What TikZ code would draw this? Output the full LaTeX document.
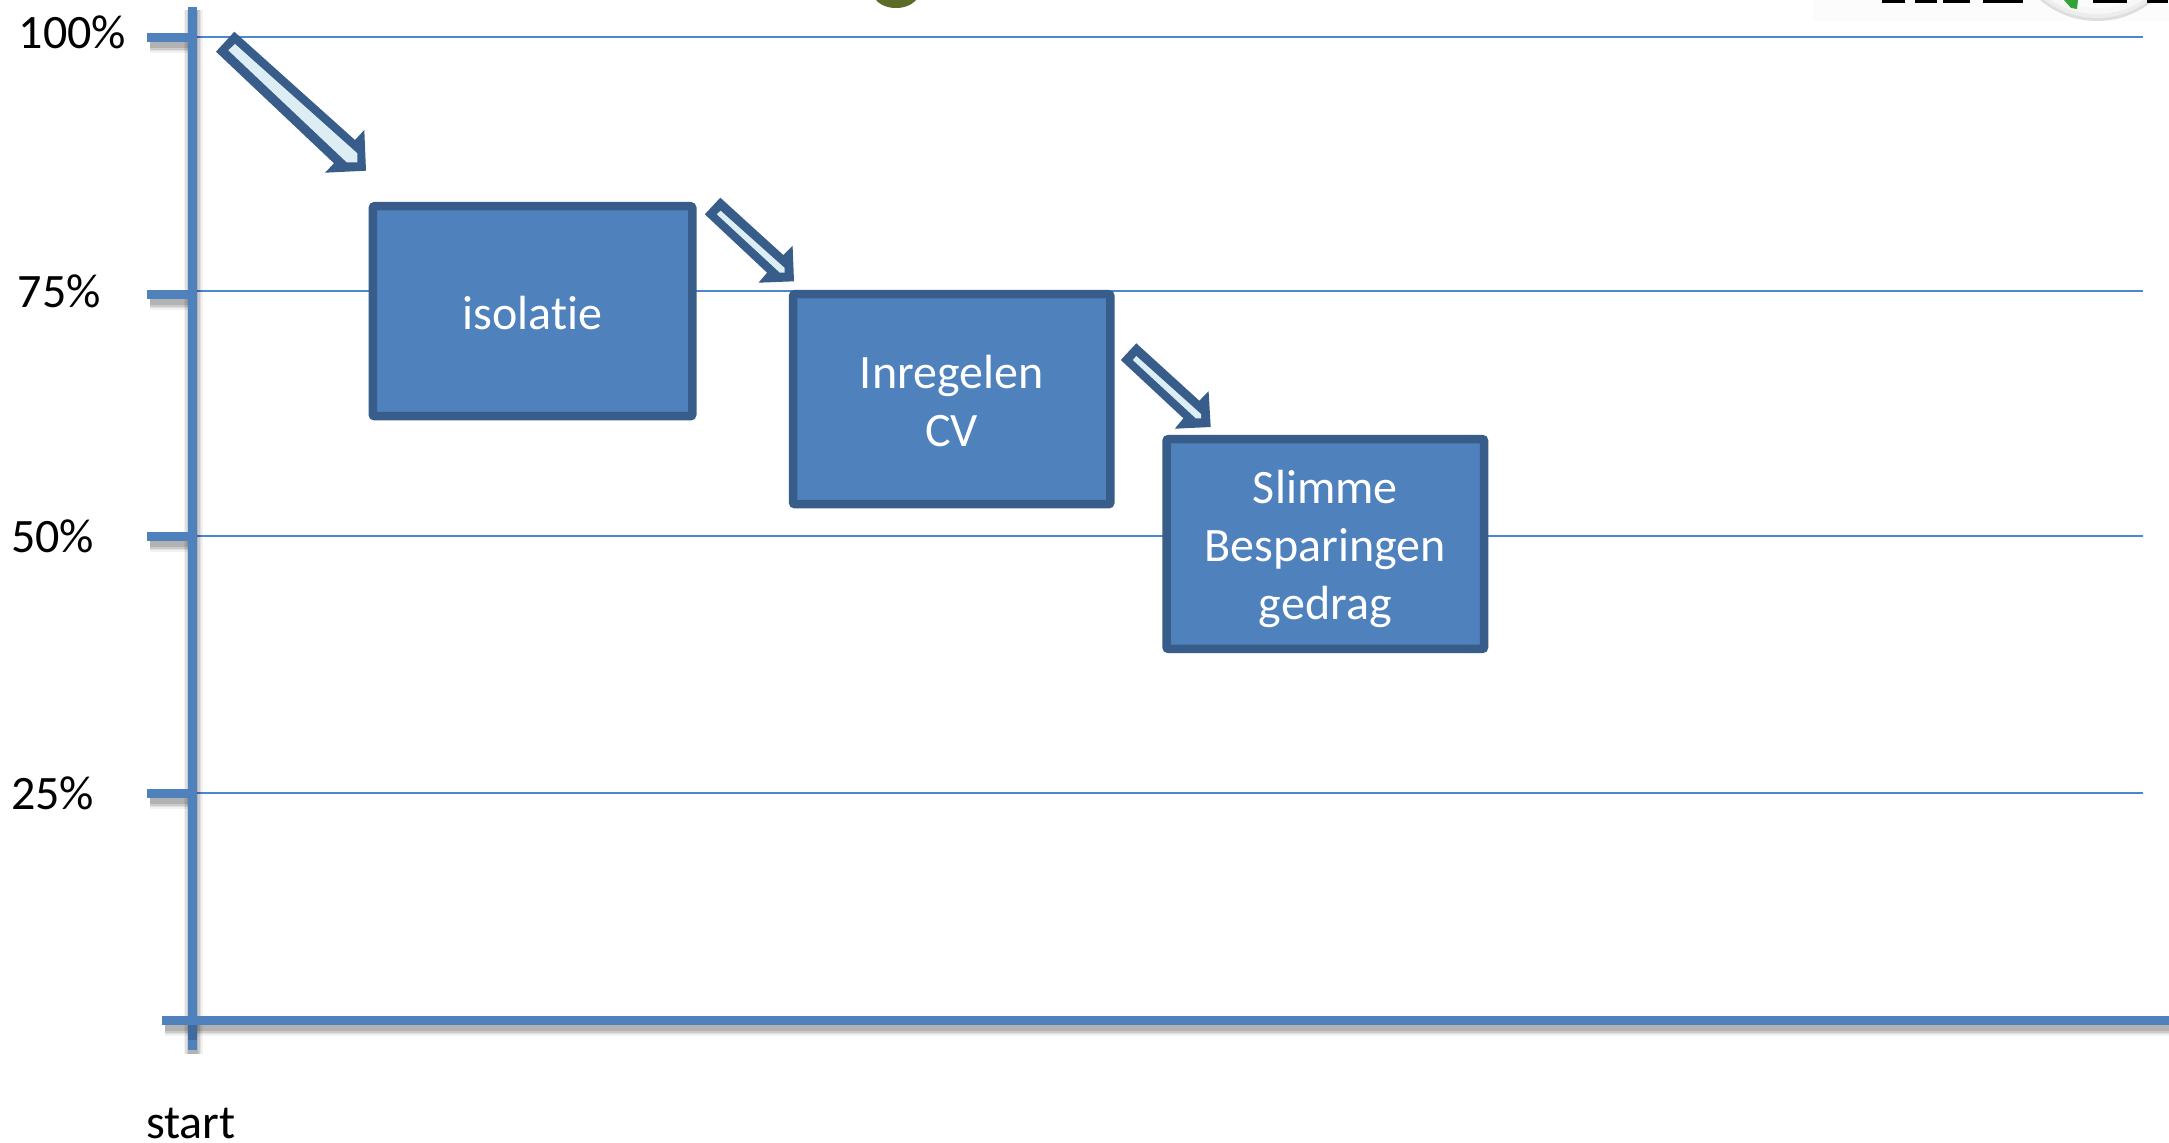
\documentclass[tikz,border=0pt]{standalone}
\usepackage{fontspec}
\setmainfont{Carlito}[Ligatures=NoCommon]
\definecolor{axisblue}{RGB}{79,129,189}
\definecolor{gridblue}{RGB}{74,134,210}
\definecolor{darkblue}{RGB}{56,93,138}
\definecolor{paleblue}{RGB}{220,238,244}
\definecolor{olive}{RGB}{93,107,40}
\tikzset{
  axisline/.style={line width=9pt,draw=axisblue},
  gridline/.style={line width=1.6pt,draw=gridblue},
  stepbox/.style={rectangle,draw=darkblue,fill=axisblue,line width=8.5pt,rounded corners=2pt,text=white,align=center,font=\fontsize{48}{58}\selectfont,inner sep=0pt},
  pct/.style={text=black,font=\fontsize{48}{58}\selectfont,inner sep=0pt,anchor=base},
  arrowout/.style={fill=darkblue,draw=none},
  arrowin/.style={fill=paleblue,draw=none}
}
\newcommand{\axisshadow}[2]{%
  \foreach \w/\o in {19/.05,16/.07,13/.09,10/.12}{
    \draw[line width=\w pt,black,opacity=\o] #1 -- #2;}}
\begin{document}
\begin{tikzpicture}[x=1pt,y=-1pt]
\useasboundingbox (0,0) rectangle (2169,1143);
\fill[white] (0,0) rectangle (2169,1143);
% cut-off fragments at the top edge
\fill[black!1] (1813,0) rectangle (2169,21);
\begin{scope}
\clip (0,0) rectangle (2169,1143);
\draw[olive,line width=8pt] (877,-8) arc[start angle=180,end angle=360,x radius=19,y radius=-12];
\fill[black!13] (2097,-67) circle (88);
\fill[black!7] (2097,-68) circle (86);
\fill[black!3] (2097,-70) circle (84);
\fill[black!1] (2097,-74) circle (82);
\foreach \a/\b in {1882/1905,1915/1937,1943/1970,1983/2023,2093/2127,2147/2168}{
  \fill[black] (\a,-5) rectangle (\b,3);}
\fill[green!55!black!80] (2064,0) -- (2078,0) -- (2077,9) -- (2071,8) -- cycle;
\end{scope}
% grid
\coordinate (g100a) at (192.5,37);  \coordinate (g100b) at (2143,37);
\coordinate (g75a) at (192.5,291);  \coordinate (g75b) at (2143,291);
\coordinate (g50a) at (192.5,536);  \coordinate (g50b) at (2143,536);
\coordinate (g25a) at (192.5,793);  \coordinate (g25b) at (2143,793);
\foreach \n in {100,75,50,25}{\draw[gridline] (g\n a) -- (g\n b);}
% shadows and axes
\coordinate (yt) at (192.5,7); \coordinate (yb) at (192.5,1050);
\coordinate (xl) at (162,1020); \coordinate (xr) at (2169,1020);
\coordinate (t100) at (147,37); \coordinate (t75) at (147,294);
\coordinate (t50) at (147,536); \coordinate (t25) at (147,793);
\axisshadow{(193,10)}{(193,1054)}
\axisshadow{(165,1026)}{(2169,1026)}
\foreach \n/\yy in {100/37,75/294,50/536,25/793}{
  \axisshadow{(150,\yy+6)}{(192,\yy+6)}
  \draw[axisline] (t\n) -- (192.5,\yy);
}
\draw[axisline] (yt) -- (yb);
\draw[axisline] (xl) -- (xr);
\fill[darkblue,opacity=.6] (188,1024.5) rectangle (197,1040);
% labels
\node[pct] (l100) at (72.6,48.5) {100\%};
\node[pct] (l75) at (59.3,307) {75\%};
\node[pct] (l50) at (52.5,552) {50\%};
\node[pct] (l25) at (52.5,809) {25\%};
\node[pct] (lstart) at (191,1138) {start};
% boxes
\node[stepbox,minimum width=319.5pt,minimum height=210pt] (b1) at (532.5,311.2) {\rule{0pt}{36pt}isolatie};
\node[stepbox,minimum width=317.3pt,minimum height=210pt] (b2) at (951.7,399.2) {\rule{0pt}{36pt}Inregelen\\CV};
\node[stepbox,minimum width=317.5pt,minimum height=209.8pt] (b3) at (1325.3,544) {\rule{0pt}{44pt}Slimme\\Besparingen\\gedrag};
% block arrows
\fill[arrowout] (234.3,31.7) -- (216,51.7) -- (334,163.3) -- (325,172.7) -- (366,170.7) -- (364.3,130) -- (355,140) -- cycle;
\fill[arrowin] (235,44) -- (228.3,50.3) -- (346.7,162.3) -- (357.3,162.3) -- (357.3,153.3) -- cycle;
\fill[arrowout] (720.3,197.7) -- (704.8,214.3) -- (767.1,272.7) -- (758.5,282.7) -- (794,281.3) -- (792.6,245.7) -- (783.3,255) -- cycle;
\fill[arrowin] (720.6,210.7) -- (716.8,214.3) -- (779.9,272.7) -- (784.7,272.7) -- (784.7,268) -- cycle;
\fill[arrowout] (1136.3,343.3) -- (1120.8,360) -- (1183.4,418.3) -- (1174.8,428.7) -- (1210.7,427) -- (1208.6,391.3) -- (1199.3,400.7) -- cycle;
\fill[arrowin] (1136.3,356) -- (1132.8,360) -- (1195.8,418.3) -- (1201,418.3) -- (1201,414) -- cycle;
\end{tikzpicture}
\end{document}
